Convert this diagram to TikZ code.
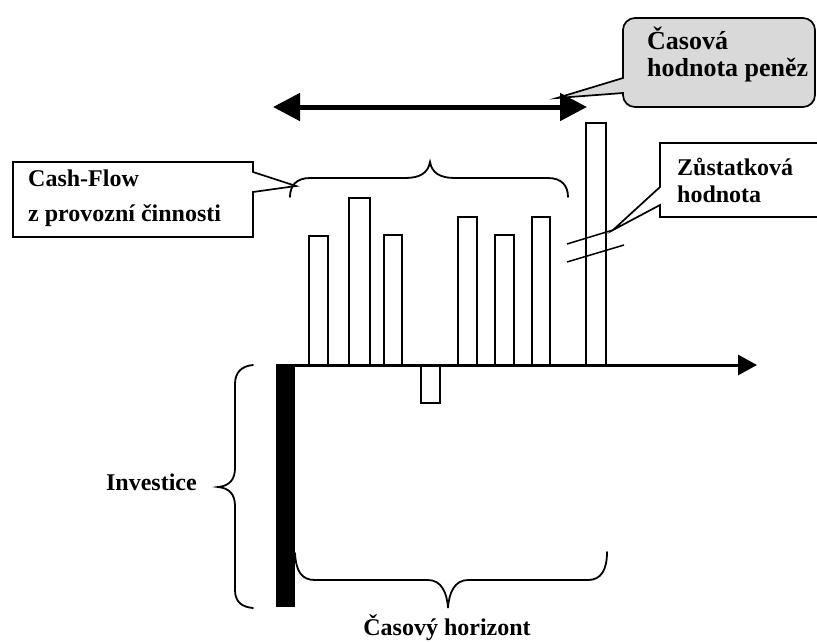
\documentclass[tikz,border=0pt]{standalone}
\usepackage{fontspec}
\setmainfont{Liberation Serif}
\usetikzlibrary{arrows.meta}
\begin{document}
\begin{tikzpicture}[x=1pt,y=-1pt,
  bar/.style={draw=black,line width=1.8pt,fill=white},
  brace/.style={draw=black,line width=1.8pt,line cap=round},
  callout/.style={draw=black,line width=1.7pt,line join=miter,fill=white},
  breakline/.style={draw=black,line width=1.5pt},
  lbl/.style={font=\bfseries\fontsize{24}{35}\selectfont,align=left,inner sep=0pt,anchor=base west},
]
\useasboundingbox (0,0) rectangle (817,641);

% coordinates
\coordinate (origin) at (276,365);
\coordinate (axisend) at (757,365);
\coordinate (arL) at (273,107);
\coordinate (arR) at (587,107);
\coordinate (cft) at (296,186);
\coordinate (cvt) at (557,98);
\coordinate (zt) at (613,230);

% bars
\draw[bar] (309,365) rectangle (328,236);
\draw[bar] (349,365) rectangle (370,198);
\draw[bar] (384,365) rectangle (402,235);
\draw[bar] (421,365) rectangle (440,403);
\draw[bar] (458,365) rectangle (477,217);
\draw[bar] (495,365) rectangle (514,235);
\draw[bar] (532,365) rectangle (550,217);
\draw[bar] (586,365) rectangle (606,123);

% investment bar
\fill[black] (276,365) rectangle (295,607);

% axis
\draw[line width=3pt,-{Triangle[length=19pt,width=20pt]}] (origin) -- (axisend);

% double arrow
\draw[line width=5pt,{Triangle[length=27pt,width=27pt]}-{Triangle[length=27pt,width=27pt]}] (arL) -- (arR);

% brace over cash flows
\draw[brace] (290,197) .. controls (290,186) and (296,178) .. (310,178) -- (405,178)
  .. controls (420,178) and (428,173) .. (430,162)
  .. controls (432,173) and (440,178) .. (455,178) -- (548,178)
  .. controls (562,178) and (568,186) .. (568,197);

% brace investice
\draw[brace] (253,365) .. controls (242,366) and (235,372) .. (235,384) -- (235,468)
  .. controls (235,480) and (229,486) .. (218,487)
  .. controls (229,488) and (235,494) .. (235,506) -- (235,590)
  .. controls (235,602) and (242,607) .. (253,608);

% brace horizont
\draw[brace] (295,553) .. controls (296,572) and (302,580) .. (315,580) -- (428,580)
  .. controls (441,580) and (447,592) .. (448,608)
  .. controls (449,592) and (455,580) .. (468,580) -- (588,580)
  .. controls (601,580) and (607,570) .. (607,552);

% break lines
\draw[breakline] (567,244) -- (zt);
\draw[breakline] (567,262) -- (624,245);

% callout Cash-Flow
\draw[callout] (13,162) -- (253,162) -- (253,172) -- (cft) -- (253,192) -- (253,237) -- (13,237) -- cycle;
\node[lbl] (cf) at (28,221) {Cash-Flow\\z provozní činnosti};

% callout Zustatkova
\draw[callout] (822,143) -- (660,143) -- (660,187) -- (zt) -- (660,205) -- (660,217) -- (822,217);
\node[lbl,font=\bfseries\fontsize{24}{27}\selectfont] (zh) at (677,202) {Zůstatková\\hodnota};

% callout Casova hodnota
\draw[callout,fill=black!15] (cvt) -- (623,78) [rounded corners=12pt] -- (623,18) -- (815,18) -- (815,107) -- (623,107) [sharp corners] -- (623,93) -- cycle;
\node[lbl,font=\bfseries\fontsize{26}{27}\selectfont] (tv) at (647,76) {Časová\\hodnota peněz};

% labels
\node[font=\bfseries\fontsize{24}{28}\selectfont,inner sep=0pt,anchor=base east] (inv) at (197,490) {Investice};
\node[font=\bfseries\fontsize{24}{28}\selectfont,inner sep=0pt,anchor=base] (hor) at (447,635) {Časový horizont};
\end{tikzpicture}
\end{document}
